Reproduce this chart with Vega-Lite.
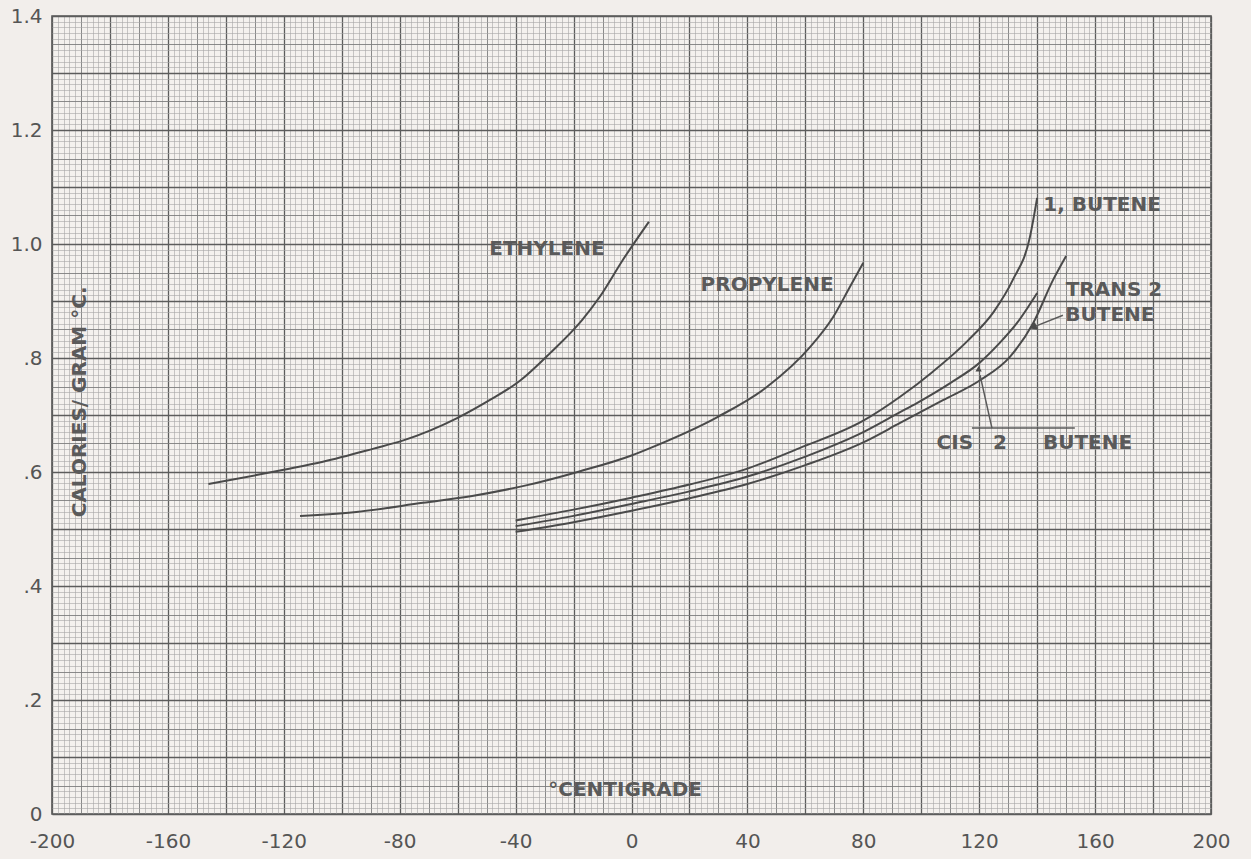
{
  "$schema": "https://vega.github.io/schema/vega-lite/v6.json",
  "width": 1159,
  "height": 798,
  "autosize": {"type": "none"},
  "padding": {"left": 52, "top": 16, "right": 40, "bottom": 45},
  "background": "#f2eeeb",
  "config": {
    "view": {"stroke": "#555555", "strokeWidth": 1.6, "fill": "#f4f1ee"},
    "font": "DejaVu Sans"
  },
  "encoding": {
    "x": {
      "field": "x",
      "type": "quantitative",
      "scale": {"domain": [-200, 200], "nice": false, "zero": false},
      "axis": {
        "title": null,
        "tickCount": 200,
        "grid": true,
        "ticks": false,
        "domain": false,
        "labelOverlap": false,
        "labelFlush": false,
        "labelBound": false,
        "labelPadding": 17,
        "labelFontSize": 20,
        "labelColor": "#555555",
        "labelFont": "DejaVu Sans",
        "labelExpr": "datum.value % 40 === 0 ? (datum.value < 0 ? '-' + abs(datum.value) : '' + datum.value) : ''",
        "gridOpacity": 1,
        "gridColor": {
          "condition": [
            {"test": "datum.value % 20 === 0", "value": "#5c5c5c"},
            {"test": "datum.value % 10 === 0", "value": "#7e7e7e"}
          ],
          "value": "#a6a6a6"
        },
        "gridWidth": {
          "condition": [
            {"test": "datum.value % 20 === 0", "value": 1.3},
            {"test": "datum.value % 10 === 0", "value": 0.9}
          ],
          "value": 0.6
        }
      }
    },
    "y": {
      "field": "y",
      "type": "quantitative",
      "scale": {"domain": [0, 1.4], "nice": false, "zero": false},
      "axis": {
        "title": null,
        "tickCount": 140,
        "grid": true,
        "ticks": false,
        "domain": false,
        "labelOverlap": false,
        "labelFlush": false,
        "labelBound": false,
        "labelPadding": 10,
        "labelFontSize": 20,
        "labelColor": "#555555",
        "labelFont": "DejaVu Sans",
        "labelExpr": "round(datum.value * 100) % 20 === 0 ? (datum.value >= 0.99 ? format(datum.value, '.1f') : (round(datum.value * 100) === 0 ? '0' : '.' + round(datum.value * 10))) : ''",
        "gridOpacity": 1,
        "gridColor": {
          "condition": [
            {"test": "round(datum.value * 100) % 10 === 0", "value": "#5c5c5c"},
            {"test": "round(datum.value * 100) % 5 === 0", "value": "#7e7e7e"}
          ],
          "value": "#a6a6a6"
        },
        "gridWidth": {
          "condition": [
            {"test": "round(datum.value * 100) % 10 === 0", "value": 1.3},
            {"test": "round(datum.value * 100) % 5 === 0", "value": 0.9}
          ],
          "value": 0.6
        }
      }
    }
  },
  "layer": [
    {
      "data": {
        "values": [
          {"gas": "Ethylene", "x": -146, "y": 0.579},
          {"gas": "Ethylene", "x": -129, "y": 0.595},
          {"gas": "Ethylene", "x": -120, "y": 0.604},
          {"gas": "Ethylene", "x": -106.5, "y": 0.618},
          {"gas": "Ethylene", "x": -89, "y": 0.641},
          {"gas": "Ethylene", "x": -79, "y": 0.655},
          {"gas": "Ethylene", "x": -60, "y": 0.695},
          {"gas": "Ethylene", "x": -49, "y": 0.726},
          {"gas": "Ethylene", "x": -38.5, "y": 0.76},
          {"gas": "Ethylene", "x": -28, "y": 0.809},
          {"gas": "Ethylene", "x": -17, "y": 0.867},
          {"gas": "Ethylene", "x": -11, "y": 0.907},
          {"gas": "Ethylene", "x": -3, "y": 0.972},
          {"gas": "Ethylene", "x": 6, "y": 1.039},

          {"gas": "Propylene", "x": -114.4, "y": 0.523},
          {"gas": "Propylene", "x": -95, "y": 0.53},
          {"gas": "Propylene", "x": -72, "y": 0.546},
          {"gas": "Propylene", "x": -55, "y": 0.558},
          {"gas": "Propylene", "x": -36, "y": 0.577},
          {"gas": "Propylene", "x": -18, "y": 0.601},
          {"gas": "Propylene", "x": 0, "y": 0.629},
          {"gas": "Propylene", "x": 6.4, "y": 0.642},
          {"gas": "Propylene", "x": 29.5, "y": 0.696},
          {"gas": "Propylene", "x": 46.7, "y": 0.749},
          {"gas": "Propylene", "x": 61.6, "y": 0.819},
          {"gas": "Propylene", "x": 69.6, "y": 0.872},
          {"gas": "Propylene", "x": 75.4, "y": 0.925},
          {"gas": "Propylene", "x": 80, "y": 0.967},

          {"gas": "1-Butene", "x": -40, "y": 0.515},
          {"gas": "1-Butene", "x": -20, "y": 0.534},
          {"gas": "1-Butene", "x": 0, "y": 0.555},
          {"gas": "1-Butene", "x": 20, "y": 0.578},
          {"gas": "1-Butene", "x": 40, "y": 0.606},
          {"gas": "1-Butene", "x": 58, "y": 0.642},
          {"gas": "1-Butene", "x": 80, "y": 0.69},
          {"gas": "1-Butene", "x": 92.7, "y": 0.732},
          {"gas": "1-Butene", "x": 104, "y": 0.776},
          {"gas": "1-Butene", "x": 116, "y": 0.83},
          {"gas": "1-Butene", "x": 125, "y": 0.881},
          {"gas": "1-Butene", "x": 131.6, "y": 0.937},
          {"gas": "1-Butene", "x": 137.5, "y": 1.012},
          {"gas": "1-Butene", "x": 140, "y": 1.081},

          {"gas": "cis-2-Butene", "x": -40, "y": 0.505},
          {"gas": "cis-2-Butene", "x": -20, "y": 0.523},
          {"gas": "cis-2-Butene", "x": 0, "y": 0.544},
          {"gas": "cis-2-Butene", "x": 20, "y": 0.566},
          {"gas": "cis-2-Butene", "x": 40, "y": 0.592},
          {"gas": "cis-2-Butene", "x": 60, "y": 0.627},
          {"gas": "cis-2-Butene", "x": 80, "y": 0.67},
          {"gas": "cis-2-Butene", "x": 92.7, "y": 0.705},
          {"gas": "cis-2-Butene", "x": 98.5, "y": 0.721},
          {"gas": "cis-2-Butene", "x": 110, "y": 0.756},
          {"gas": "cis-2-Butene", "x": 120, "y": 0.791},
          {"gas": "cis-2-Butene", "x": 127, "y": 0.826},
          {"gas": "cis-2-Butene", "x": 133, "y": 0.861},
          {"gas": "cis-2-Butene", "x": 140, "y": 0.914},

          {"gas": "trans-2-Butene", "x": -40, "y": 0.495},
          {"gas": "trans-2-Butene", "x": -20, "y": 0.512},
          {"gas": "trans-2-Butene", "x": 0, "y": 0.532},
          {"gas": "trans-2-Butene", "x": 20, "y": 0.554},
          {"gas": "trans-2-Butene", "x": 40, "y": 0.579},
          {"gas": "trans-2-Butene", "x": 60, "y": 0.612},
          {"gas": "trans-2-Butene", "x": 80, "y": 0.652},
          {"gas": "trans-2-Butene", "x": 92.7, "y": 0.686},
          {"gas": "trans-2-Butene", "x": 107.5, "y": 0.726},
          {"gas": "trans-2-Butene", "x": 120.3, "y": 0.761},
          {"gas": "trans-2-Butene", "x": 130.6, "y": 0.802},
          {"gas": "trans-2-Butene", "x": 138.6, "y": 0.861},
          {"gas": "trans-2-Butene", "x": 145.5, "y": 0.937},
          {"gas": "trans-2-Butene", "x": 150, "y": 0.979}
        ]
      },
      "mark": {"type": "line", "interpolate": "monotone", "color": "#4a4a4a", "strokeWidth": 2},
      "encoding": {
        "detail": {"field": "gas", "type": "nominal"}
      }
    },
    {
      "data": {
        "values": [
          {"x": 117.5, "y": 0.677, "x2": 153, "y2": 0.677},
          {"x": 124.4, "y": 0.677, "x2": 120.3, "y2": 0.77},
          {"x": 148.9, "y": 0.875, "x2": 139.5, "y2": 0.856}
        ]
      },
      "mark": {"type": "rule", "color": "#5a5a5a", "strokeWidth": 1.5},
      "encoding": {
        "x2": {"field": "x2"},
        "y2": {"field": "y2"}
      }
    },
    {
      "data": {"values": [{"x": 138.6, "y": 0.854}]},
      "mark": {"type": "point", "shape": "triangle-left", "angle": 338, "filled": true, "size": 70, "color": "#4a4a4a", "opacity": 1}
    },
    {
      "data": {"values": [{"x": 119.8, "y": 0.781}]},
      "mark": {"type": "point", "shape": "triangle-up", "filled": true, "size": 40, "color": "#4a4a4a", "opacity": 1}
    },
    {
      "data": {
        "values": [
          {"label": "ETHYLENE", "x": -29.2, "y": 0.991},
          {"label": "PROPYLENE", "x": 46.8, "y": 0.928},
          {"label": "1, BUTENE", "x": 162.4, "y": 1.068},
          {"label": "TRANS 2", "x": 166.5, "y": 0.919},
          {"label": "BUTENE", "x": 165.1, "y": 0.875},
          {"label": "CIS", "x": 111.6, "y": 0.651},
          {"label": "2", "x": 127.2, "y": 0.651},
          {"label": "BUTENE", "x": 157.4, "y": 0.651},
          {"label": "°CENTIGRADE", "x": -2.2, "y": 0.042}
        ]
      },
      "mark": {"type": "text", "align": "center", "baseline": "middle", "font": "DejaVu Sans", "fontWeight": "bold", "fontSize": 20, "color": "#5a5a5a"},
      "encoding": {"text": {"field": "label"}}
    },
    {
      "data": {"values": [{"label": "CALORIES/ GRAM °C.", "x": -190.3, "y": 0.723}]},
      "mark": {"type": "text", "align": "center", "baseline": "middle", "angle": 270, "font": "DejaVu Sans", "fontWeight": "bold", "fontSize": 20, "color": "#5a5a5a"},
      "encoding": {"text": {"field": "label"}}
    }
  ]
}
